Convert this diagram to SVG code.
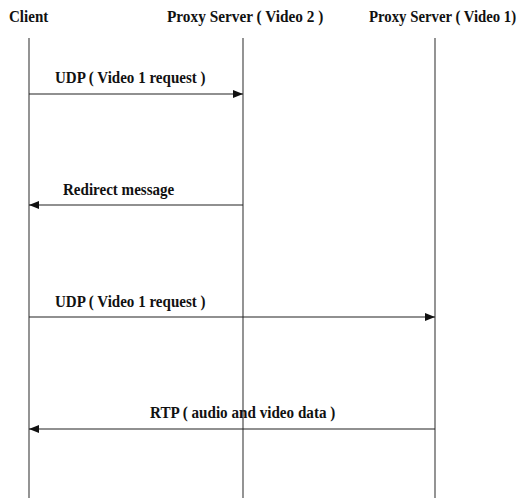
<svg xmlns="http://www.w3.org/2000/svg" width="523" height="498" viewBox="0 0 523 498">
  <style>
    .label { font-family: "Liberation Serif", "Times New Roman", serif; font-weight: bold; font-size: 17.5px; fill: #111; }
    .life { stroke: #666; stroke-width: 1.4; fill: none; }
    .msg { stroke: #222; stroke-width: 1.1; fill: none; }
  </style>
  <defs>
    <marker id="arrow" viewBox="0 0 10 8" refX="10" refY="4" markerWidth="10" markerHeight="8" markerUnits="userSpaceOnUse" orient="auto">
      <path d="M0,0 L10,4 L0,8 Z" fill="#111"/>
    </marker>
  </defs>
  <rect width="523" height="498" fill="#fff"/>

  <!-- labels use a condensed bold serif: horizontal scale ~0.86 -->
  <g id="client">
    <text class="label" transform="translate(9,22) scale(0.86,1)">Client</text>
    <line class="life" x1="29" y1="38" x2="29" y2="498"/>
  </g>
  <g id="proxy-video2">
    <text class="label" transform="translate(167,22) scale(0.875,1)">Proxy Server ( Video 2 )</text>
    <line class="life" x1="243" y1="38" x2="243" y2="498"/>
  </g>
  <g id="proxy-video1">
    <text class="label" transform="translate(369,22) scale(0.845,1)">Proxy Server ( Video 1)</text>
    <line class="life" x1="435" y1="38" x2="435" y2="498"/>
  </g>

  <g id="connectors">
    <line class="msg" x1="29" y1="94" x2="243" y2="94" marker-end="url(#arrow)"/>
    <text class="label" transform="translate(55,83) scale(0.86,1)">UDP ( Video 1 request )</text>

    <line class="msg" x1="243" y1="205" x2="29" y2="205" marker-end="url(#arrow)"/>
    <text class="label" transform="translate(63,195) scale(0.86,1)">Redirect message</text>

    <line class="msg" x1="29" y1="317" x2="435" y2="317" marker-end="url(#arrow)"/>
    <text class="label" transform="translate(55,307) scale(0.86,1)">UDP ( Video 1 request )</text>

    <line class="msg" x1="435" y1="429" x2="29" y2="429" marker-end="url(#arrow)"/>
    <text class="label" transform="translate(150,418) scale(0.865,1)">RTP ( audio and video data )</text>
  </g>
</svg>
